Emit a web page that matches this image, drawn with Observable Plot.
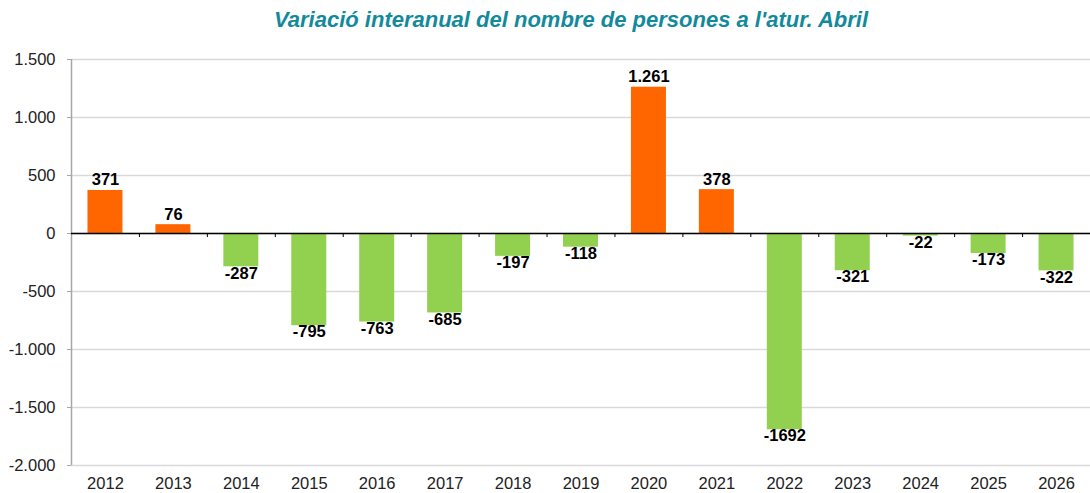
<!DOCTYPE html>
<html>
<head>
<meta charset="utf-8">
<script src="https://cdn.jsdelivr.net/npm/d3@7"></script>
<script src="https://cdn.jsdelivr.net/npm/@observablehq/plot@0.6"></script>
<style>
  html, body { margin: 0; padding: 0; background: #fff; }
  body { width: 1090px; height: 493px; overflow: hidden; font-family: "Liberation Sans", Arial, sans-serif; }
  #title { height: 40px; line-height: 40px; text-align: center; padding-left: 52px; box-sizing: border-box;
    font-size: 22px; font-weight: bold; font-style: italic; color: #138a9c; white-space: nowrap; }
</style>
</head>
<body>
<div id="title">Variació interanual del nombre de persones a l'atur. Abril</div>
<div id="chart"></div>
<script>
const years = ["2012","2013","2014","2015","2016","2017","2018","2019","2020","2021","2022","2023","2024","2025","2026"];
const values = [371, 76, -287, -795, -763, -685, -197, -118, 1261, 378, -1692, -321, -22, -173, -322];
const valueLabels = ["371","76","-287","-795","-763","-685","-197","-118","1.261","378","-1692","-321","-22","-173","-322"];
const yTicks = [1500, 1000, 500, 0, -500, -1000, -1500, -2000];
const yDomain = [-2000, 1500];

const data = years.map((y, i) => ({year: y, value: values[i], label: valueLabels[i]}));
const pos = data.filter(d => d.value >= 0);
const neg = data.filter(d => d.value < 0);

const W = 1090, H = 453, ML = 71, MR = 0, MT = 19, MB = 28;
const step = (W - ML - MR) / years.length;
const locale = d3.formatLocale({decimal: ",", thousands: ".", grouping: [3], currency: ["", "€"], minus: "-"});
const fmt = locale.format(",");

const chart = Plot.plot({
  width: W, height: H,
  marginLeft: ML, marginRight: MR, marginTop: MT, marginBottom: MB,
  style: {fontFamily: "'Liberation Sans', Arial, sans-serif", fontSize: "16px", color: "#222", background: "#fff"},
  x: {domain: years, paddingInner: 0.485, paddingOuter: 0.2425, round: false, axis: null, label: null},
  y: {domain: yDomain, axis: null, label: null},
  marks: [
    Plot.gridY(yTicks, {stroke: "#d9d9d9", strokeOpacity: 1, strokeWidth: 1.5}),
    Plot.ruleX([years[0]], {y1: yDomain[0], y2: yDomain[1], dx: -step / 2, stroke: "#a6a6a6", strokeWidth: 1.5}),
    Plot.axisY(yTicks, {tickSize: 4, tickPadding: 12, stroke: "#a6a6a6", fill: "#222", tickFormat: fmt, fontSize: 16.5, label: null}),
    Plot.barY(data, {x: "year", y: "value", fill: d => d.value >= 0 ? "#ff6600" : "#92d050"}),
    Plot.ruleY([0], {stroke: "#000", strokeWidth: 1.5}),
    Plot.ruleX(years, {x: d => d, y1: 0, y2: 0, insetBottom: -4, dx: step / 2, stroke: "#000", strokeWidth: 1}),
    Plot.axisX({tickSize: 0, tickPadding: 12, fill: "#222", fontSize: 16.5, label: null}),
    Plot.text(pos, {x: "year", y: "value", text: "label", lineAnchor: "bottom", dy: -5, fontWeight: "bold", fontSize: 16.5, fill: "#000"}),
    Plot.text(neg, {x: "year", y: "value", text: "label", lineAnchor: "top", dy: 0, fontWeight: "bold", fontSize: 16.5, fill: "#000"})
  ]
});
document.getElementById("chart").appendChild(chart);
</script>
</body>
</html>
